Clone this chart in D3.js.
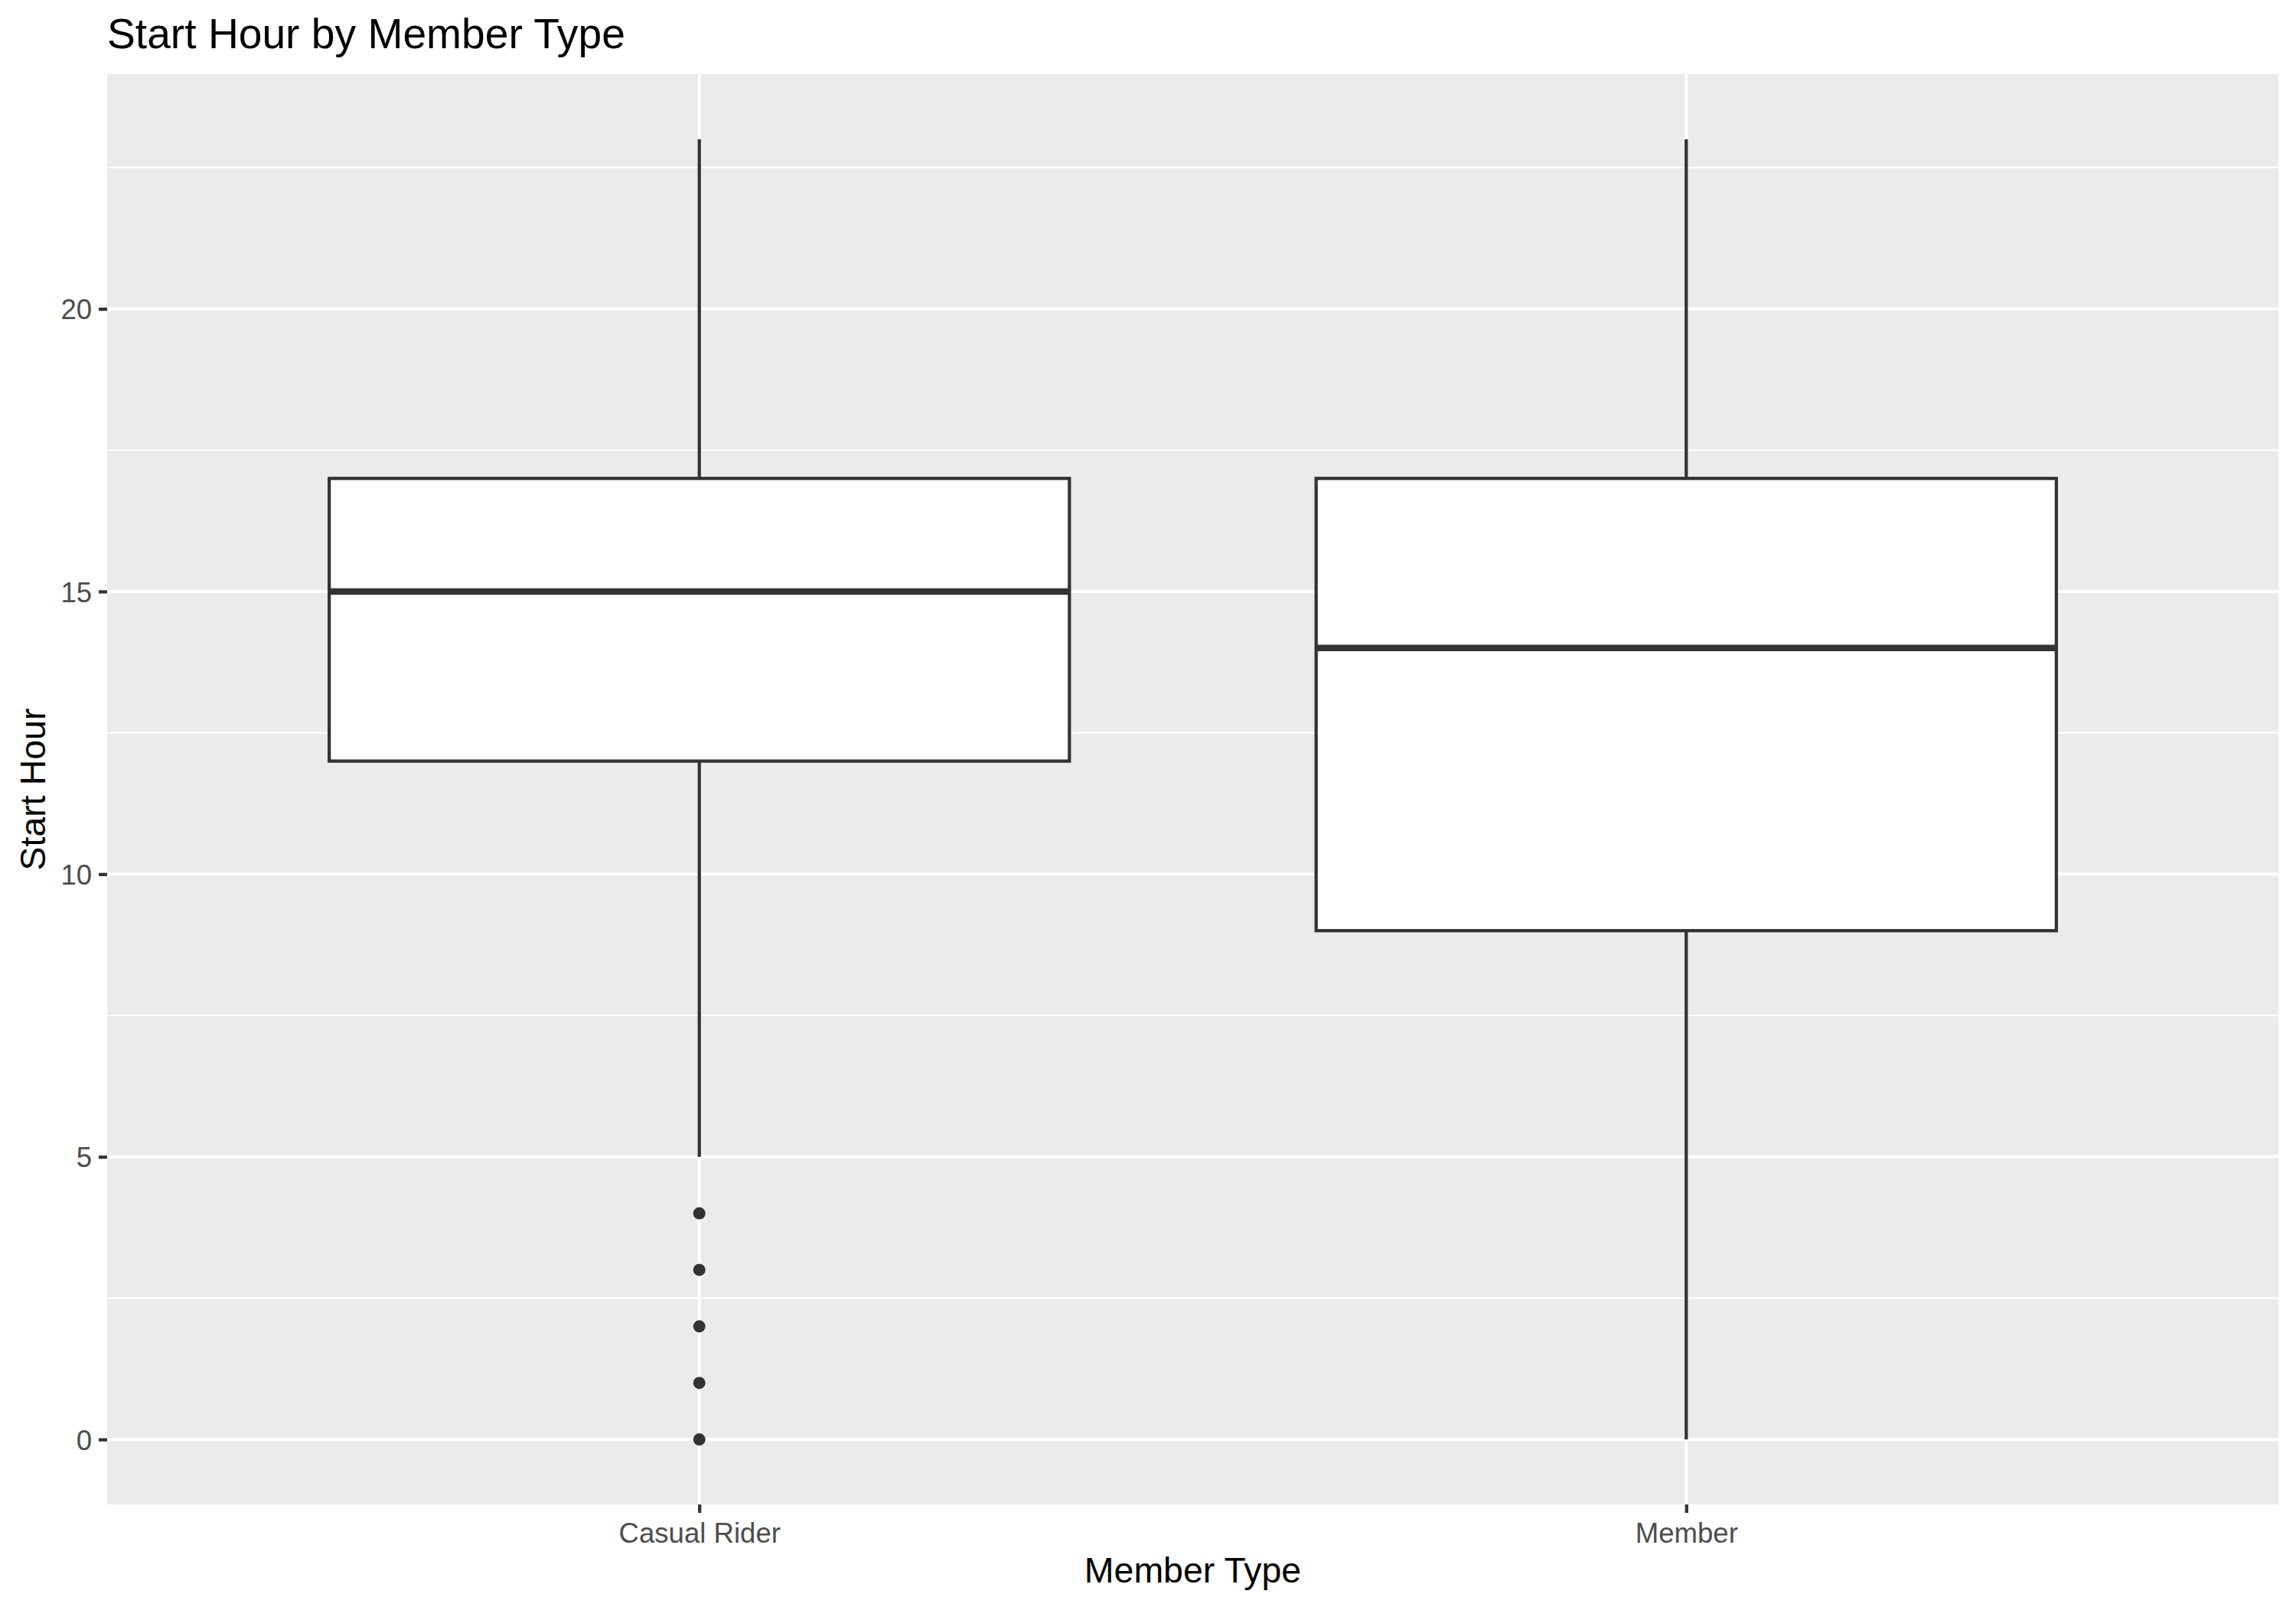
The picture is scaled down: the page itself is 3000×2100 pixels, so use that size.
<!DOCTYPE html>
<html>
<head>
<meta charset="utf-8">
<script src="https://cdn.jsdelivr.net/npm/d3@7"></script>
<style>
  html, body { margin: 0; padding: 0; background: #ffffff; }
  svg { display: block; font-family: "Liberation Sans", Arial, sans-serif; }
</style>
</head>
<body>
<script>
// data
const memberTypes = ["Casual Rider", "Member"]
const whiskerLow = [5, 0]
const boxQ1 = [12, 9]
const boxMedian = [15, 14]
const boxQ3 = [17, 17]
const whiskerHigh = [23, 23]
const casualOutliers = [0, 1, 2, 3, 4]
const majorTicks = [0, 5, 10, 15, 20]
const minorTicks = [2.5, 7.5, 12.5, 17.5, 22.5]

const W = 3000, H = 2100
const panel = { left: 140, right: 2977, top: 97, bottom: 1966 }
const lw = 4.27 // ggplot linewidth 0.5 at this resolution

const svg = d3.select("body").append("svg")
    .attr("width", W)
    .attr("height", H)

// scales
const x = d3.scalePoint()
    .domain(memberTypes)
    .range([panel.left, panel.right])
    .padding(0.6)

const y = d3.scaleLinear()
    .domain([-1.15, 24.15])
    .range([panel.bottom, panel.top])

const boxW = x.step() * 0.75

// grey panel
svg.append("rect")
    .attr("x", panel.left)
    .attr("y", panel.top)
    .attr("width", panel.right - panel.left)
    .attr("height", panel.bottom - panel.top)
    .attr("fill", "#EBEBEB")

// grid lines
const grid = svg.append("g")
grid.selectAll(".minor").data(minorTicks).join("line")
    .attr("x1", panel.left).attr("x2", panel.right)
    .attr("y1", d => y(d)).attr("y2", d => y(d))
    .attr("stroke", "#ffffff").attr("stroke-width", lw / 2)
grid.selectAll(".major").data(majorTicks).join("line")
    .attr("x1", panel.left).attr("x2", panel.right)
    .attr("y1", d => y(d)).attr("y2", d => y(d))
    .attr("stroke", "#ffffff").attr("stroke-width", lw)
grid.selectAll(".vmajor").data(memberTypes).join("line")
    .attr("x1", d => x(d)).attr("x2", d => x(d))
    .attr("y1", panel.top).attr("y2", panel.bottom)
    .attr("stroke", "#ffffff").attr("stroke-width", lw)

// boxes
const boxes = svg.append("g")
    .selectAll("g")
    .data(memberTypes)
    .join("g")

boxes.append("line")
    .attr("x1", d => x(d)).attr("x2", d => x(d))
    .attr("y1", (d, i) => y(boxQ3[i])).attr("y2", (d, i) => y(whiskerHigh[i]))
    .attr("stroke", "#333333").attr("stroke-width", lw)
boxes.append("line")
    .attr("x1", d => x(d)).attr("x2", d => x(d))
    .attr("y1", (d, i) => y(boxQ1[i])).attr("y2", (d, i) => y(whiskerLow[i]))
    .attr("stroke", "#333333").attr("stroke-width", lw)
boxes.append("rect")
    .attr("x", d => x(d) - boxW / 2)
    .attr("width", boxW)
    .attr("y", (d, i) => y(boxQ3[i]))
    .attr("height", (d, i) => y(boxQ1[i]) - y(boxQ3[i]))
    .attr("fill", "#ffffff")
    .attr("stroke", "#333333").attr("stroke-width", lw)
boxes.append("line")
    .attr("x1", d => x(d) - boxW / 2).attr("x2", d => x(d) + boxW / 2)
    .attr("y1", (d, i) => y(boxMedian[i])).attr("y2", (d, i) => y(boxMedian[i]))
    .attr("stroke", "#333333").attr("stroke-width", lw * 2)

// outliers for casual riders
svg.append("g")
    .selectAll("circle")
    .data(casualOutliers)
    .join("circle")
    .attr("cx", x("Casual Rider"))
    .attr("cy", d => y(d))
    .attr("r", 8)
    .attr("fill", "#333333")

// axes
const yAxis = svg.append("g")
    .attr("transform", "translate(" + panel.left + ",0)")
    .call(d3.axisLeft(y).tickValues(majorTicks).tickSize(11).tickPadding(8.8))
yAxis.select(".domain").remove()
yAxis.selectAll(".tick line").attr("stroke", "#333333").attr("stroke-width", lw)
yAxis.selectAll(".tick text")
    .attr("fill", "#4D4D4D")
    .attr("font-size", 36.6)
    .attr("font-family", "Liberation Sans, Arial, sans-serif")
    .attr("dy", "0.36em")

const xAxis = svg.append("g")
    .attr("transform", "translate(0," + panel.bottom + ")")
    .call(d3.axisBottom(x).tickSize(11).tickPadding(8.8))
xAxis.select(".domain").remove()
xAxis.selectAll(".tick line").attr("stroke", "#333333").attr("stroke-width", lw)
xAxis.selectAll(".tick text")
    .attr("fill", "#4D4D4D")
    .attr("font-size", 36.6)
    .attr("font-family", "Liberation Sans, Arial, sans-serif")
    .attr("dy", "0.83em")

// titles
svg.append("text")
    .attr("x", 140)
    .attr("y", 63)
    .attr("font-size", 55.2)
    .attr("fill", "#000000")
    .text("Start Hour by Member Type")

svg.append("text")
    .attr("x", (panel.left + panel.right) / 2)
    .attr("y", 2068)
    .attr("text-anchor", "middle")
    .attr("font-size", 46.5)
    .attr("fill", "#000000")
    .text("Member Type")

svg.append("text")
    .attr("transform", "translate(59," + (panel.top + panel.bottom) / 2 + ") rotate(-90)")
    .attr("text-anchor", "middle")
    .attr("font-size", 46.5)
    .attr("fill", "#000000")
    .text("Start Hour")
</script>
</body>
</html>
